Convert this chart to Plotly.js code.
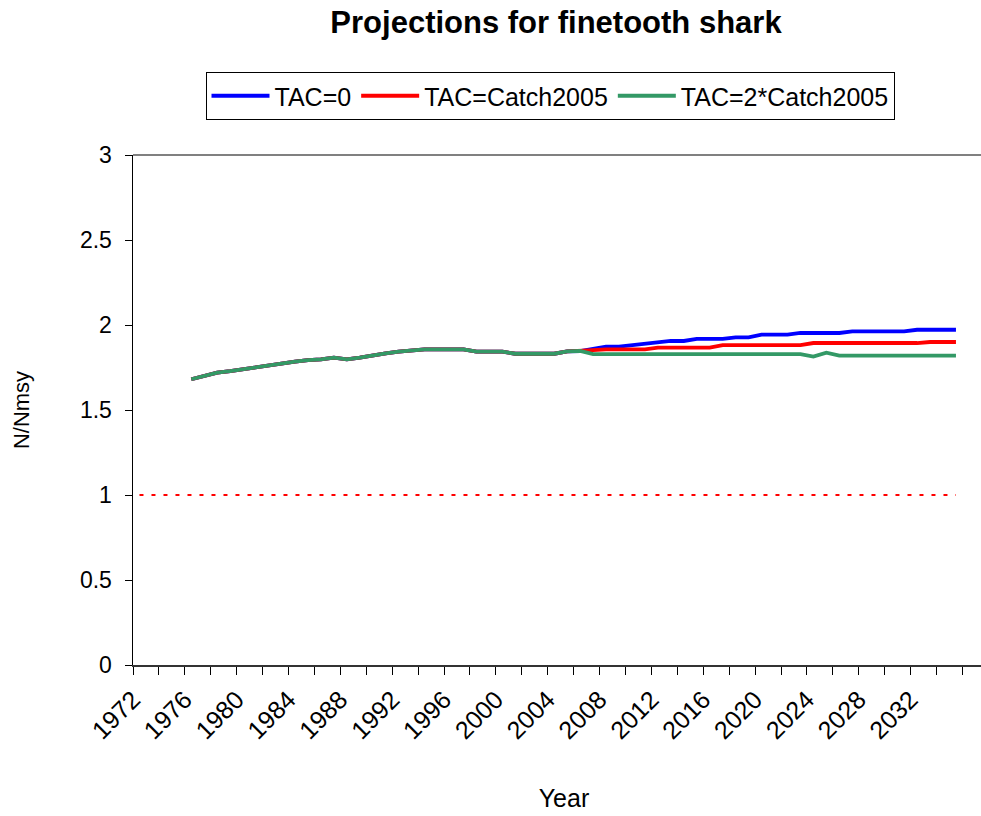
<!DOCTYPE html>
<html>
<head>
<meta charset="utf-8">
<script src="https://cdn.plot.ly/plotly-3.0.1.min.js"></script>
<style>
html,body{margin:0;padding:0;background:#fff;overflow:hidden;width:981px;height:816px;}
#chart{width:995px;height:816px;}
</style>
</head>
<body>
<div id="chart"></div>
<script>
// ---- data ----
var years = [1976,1977,1978,1979,1980,1981,1982,1983,1984,1985,1986,1987,1988,1989,1990,
  1991,1992,1993,1994,1995,1996,1997,1998,1999,2000,2001,2002,2003,2004,2005,2006,
  2007,2008,2009,2010,2011,2012,2013,2014,2015,2016,2017,2018,2019,2020,2021,2022,
  2023,2024,2025,2026,2027,2028,2029,2030,2031,2032,2033,2034,2035];

// 1976-2006 (shared history)
var histValues = [1.681,1.700,1.720,1.729,1.741,1.751,1.763,1.772,1.784,1.794,1.798,1.808,1.798,1.808,1.822,
  1.833,1.843,1.850,1.857,1.857,1.857,1.857,1.843,1.843,1.843,1.831,1.831,1.831,1.831,1.845,1.847];

// 2007-2035 projections
var tac0Proj = [1.860,1.873,1.873,1.882,1.892,1.898,1.906,1.906,1.918,1.918,1.918,1.927,1.927,1.943,1.943,
  1.943,1.953,1.953,1.953,1.953,1.963,1.963,1.963,1.963,1.963,1.972,1.972,1.972,1.972];
var tacCatchProj = [1.852,1.857,1.857,1.857,1.857,1.867,1.867,1.867,1.867,1.867,1.882,1.882,1.882,1.882,1.882,
  1.882,1.882,1.894,1.894,1.894,1.894,1.894,1.894,1.894,1.894,1.894,1.900,1.900,1.900];
var tac2CatchProj = [1.829,1.829,1.829,1.829,1.829,1.829,1.829,1.829,1.829,1.829,1.829,1.829,1.829,1.829,1.829,
  1.829,1.829,1.814,1.837,1.820,1.820,1.820,1.820,1.820,1.820,1.820,1.820,1.820,1.820];

var seriesNames = ["TAC=0","TAC=Catch2005","TAC=2*Catch2005"];
var refYears = [1972, 2035];
var refValues = [1, 1];

var labelYears = [1972,1976,1980,1984,1988,1992,1996,2000,2004,2008,2012,2016,2020,2024,2028,2032];
var firstYear = 1972, lastBoundaryYear = 2037;

// ---- build ----
var tac0 = histValues.concat(tac0Proj);
var tacCatch = histValues.concat(tacCatchProj);
var tac2Catch = histValues.concat(tac2CatchProj);

var tickVals = [], tickText = [];
for (var yr = firstYear; yr < lastBoundaryYear; yr += 2) {
  tickVals.push(yr - 0.5);
  tickText.push(labelYears.indexOf(yr) >= 0 ? String(yr) : "");
}

var FONT = "Liberation Sans, Arial, sans-serif";

var traces = [
  {x: refYears, y: refValues, type: "scatter", mode: "lines", showlegend: false, hoverinfo: "skip",
   line: {color: "#FF0000", width: 2, dash: "4px,8px"}},
  {x: years, y: tac0, type: "scatter", mode: "lines", name: seriesNames[0],
   line: {color: "#0000FF", width: 3.8}},
  {x: years, y: tacCatch, type: "scatter", mode: "lines", name: seriesNames[1],
   line: {color: "#FF0000", width: 3.8}},
  {x: years, y: tac2Catch, type: "scatter", mode: "lines", name: seriesNames[2],
   line: {color: "#339966", width: 3.8}}
];

var W = 995, L = 133;
var plotW = W - L, catW = 12.96;
var xr = [firstYear - 0.5, firstYear - 0.5 + plotW / catW];

var layout = {
  width: W, height: 816,
  margin: {l: L, r: 0, t: 155, b: 151},
  paper_bgcolor: "#fff", plot_bgcolor: "#fff",
  font: {family: FONT, color: "#000", size: 22},
  title: {text: "Projections for finetooth shark", font: {family: FONT, size: 31, weight: 700, color: "#000"},
          x: 556/W, xanchor: "center", xref: "container", y: 1 - 22/816, yanchor: "middle", yref: "container"},
  showlegend: true,
  legend: {orientation: "h", x: (550-L)/plotW, xanchor: "center", y: (665-72)/510, yanchor: "top",
           bordercolor: "#000", borderwidth: 1, bgcolor: "#fff",
           font: {family: FONT, size: 25, color: "#000"}, itemwidth: 58, tracegroupgap: 0},
  xaxis: {range: xr, tickmode: "array", tickvals: tickVals, ticktext: tickText, tickangle: -45,
          ticks: "outside", ticklen: 8, tickcolor: "#000", tickwidth: 1,
          tickfont: {family: FONT, size: 25, color: "#000"},
          showline: true, linecolor: "#333", linewidth: 2, showgrid: false, zeroline: false,
          title: {text: "Year", font: {family: FONT, size: 25, color: "#000"}, standoff: 46},
          automargin: false},
  xaxis2: {range: xr, overlaying: "x", anchor: "y", side: "bottom", tickmode: "array", tickvals: tickVals,
          ticks: "inside", ticklen: 8, tickcolor: "#000", tickwidth: 1, showticklabels: false,
          showline: false, showgrid: false, zeroline: false},
  yaxis: {range: [0, 3], tickmode: "linear", tick0: 0, dtick: 0.5, ticks: "outside", ticklen: 7,
          tickcolor: "#000", tickwidth: 1, tickfont: {family: FONT, size: 23, color: "#000"},
          ticklabelstandoff: 8,
          showline: true, linecolor: "#000", linewidth: 1.5, showgrid: false, zeroline: false,
          title: {text: "N/Nmsy", font: {family: FONT, size: 22, color: "#000"}, standoff: 44},
          automargin: false},
  yaxis2: {range: [0, 3], overlaying: "y", anchor: "x", side: "left", tickmode: "linear", tick0: 0, dtick: 0.5,
          ticks: "inside", ticklen: 7, tickcolor: "#000", tickwidth: 1, showticklabels: false,
          showline: false, showgrid: false, zeroline: false},
  shapes: [{type: "line", xref: "paper", yref: "paper", x0: 0, x1: 1, y0: 1, y1: 1,
            line: {color: "#808080", width: 2}, layer: "below"}]
};

Plotly.newPlot("chart", traces, layout, {displayModeBar: false, staticPlot: true});
</script>
</body>
</html>
